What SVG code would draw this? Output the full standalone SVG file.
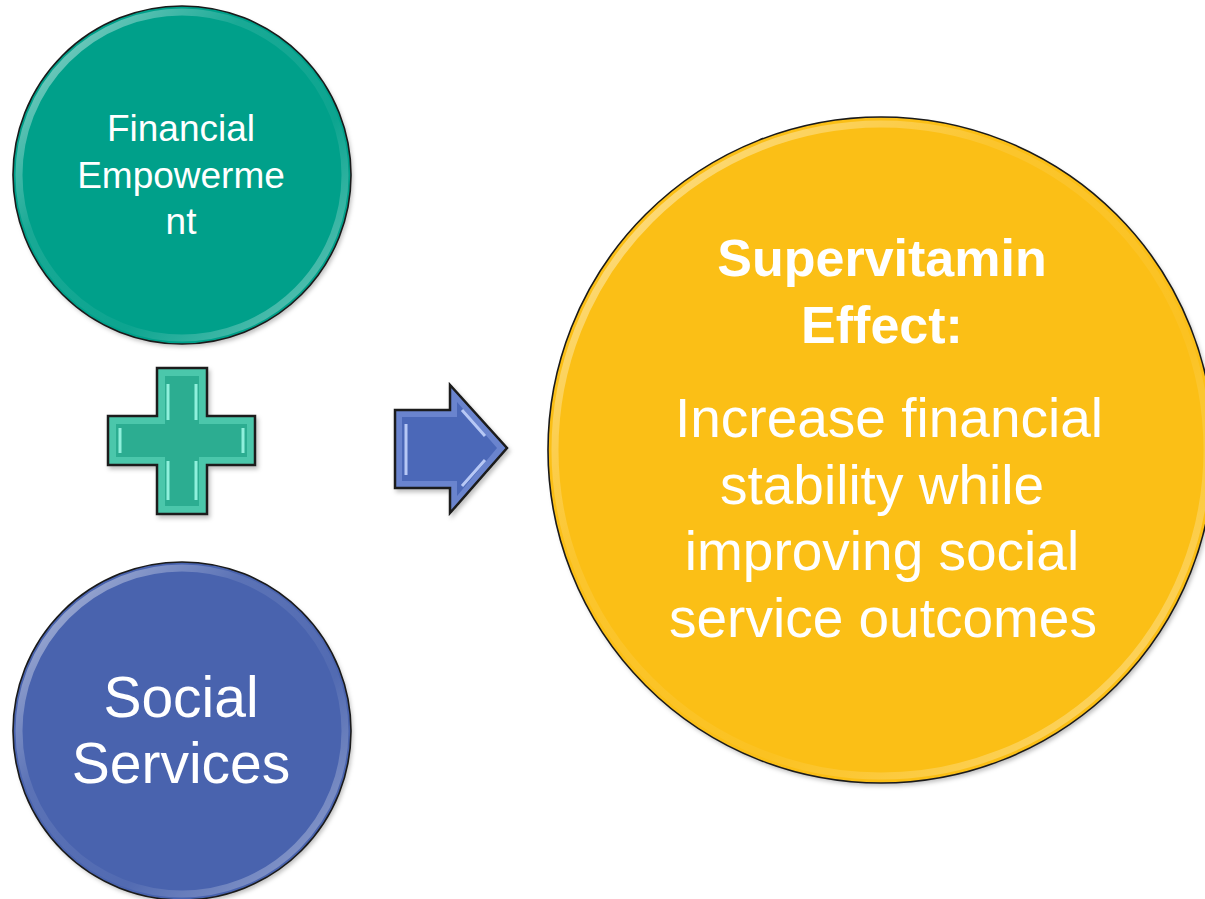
<svg xmlns="http://www.w3.org/2000/svg" width="1205" height="899" viewBox="0 0 1205 899">
<style>
.lbl{font-family:"Liberation Sans",Arial,sans-serif;fill:#ffffff;text-anchor:middle}
.ring{fill:none;stroke:url(#rim);stroke-width:7}
.edge{fill:none;stroke:#1a1a1a;stroke-width:1.6}
</style>
<defs>
<linearGradient id="rim" x1="0" y1="0" x2="1" y2="1">
<stop offset="0" stop-color="#ffffff" stop-opacity="0.6"/>
<stop offset="0.35" stop-color="#ffffff" stop-opacity="0.1"/>
<stop offset="0.65" stop-color="#ffffff" stop-opacity="0.05"/>
<stop offset="1" stop-color="#ffffff" stop-opacity="0.45"/>
</linearGradient>
<filter id="sh" x="-10%" y="-10%" width="120%" height="120%">
<feDropShadow dx="2" dy="3" stdDeviation="2" flood-color="#000" flood-opacity="0.25"/>
</filter>
</defs>

<g id="node-financial">
<circle cx="182" cy="175" r="169" fill="#05A08A" filter="url(#sh)"/>
<circle cx="182" cy="175" r="163" class="ring"/>
<circle cx="182" cy="175" r="169" class="edge"/>
<text class="lbl" font-size="37"><tspan x="181" y="141">Financial</tspan><tspan x="181" y="188">Empowerme</tspan><tspan x="181" y="234">nt</tspan></text>
</g>

<g id="node-plus">
<path d="M157,368 H207 V416 H255 V465 H207 V514 H157 V465 H108 V416 H157 Z" fill="#4CC7AB" stroke="#1a1a1a" stroke-width="2.5" filter="url(#sh)"/>
<path d="M165,376 H199 V424 H247 V457 H199 V506 H165 V457 H116 V424 H165 Z" fill="#2CAD91"/>
<path d="M168,384 V420 M196,384 V420 M168,461 V500 M196,461 V500 M120,428 V453 M243,428 V453" stroke="#8FF0DC" stroke-width="3" fill="none"/>
</g>

<g id="node-social">
<circle cx="182" cy="731" r="169" fill="#4A63AE" filter="url(#sh)"/>
<circle cx="182" cy="731" r="163" class="ring"/>
<circle cx="182" cy="731" r="169" class="edge"/>
<text class="lbl" font-size="57"><tspan x="181" y="717">Social</tspan><tspan x="181" y="783">Services</tspan></text>
</g>

<g id="connectors">
<g id="arrow">
<path d="M395,410 H450 V385 L507,448 L450,513 V488 H395 Z" fill="#6A84CE" stroke="#1a1a1a" stroke-width="2.5" filter="url(#sh)"/>
<path d="M402,417 H457 V402 L497,448 L457,496 V481 H402 Z" fill="#4B68B8"/>
<path d="M406,424 V475 M462,410 L485,436 M462,486 L485,460" stroke="#B7C8F5" stroke-width="3" fill="none"/>
</g>
</g>

<g id="node-effect">
<circle cx="881" cy="450" r="333" fill="#FBBF17" filter="url(#sh)"/>
<circle cx="881" cy="450" r="326" class="ring"/>
<circle cx="881" cy="450" r="333" class="edge"/>
<text class="lbl" font-size="52" font-weight="bold"><tspan x="882" y="276">Supervitamin</tspan><tspan x="882" y="343">Effect:</tspan></text>
<text class="lbl" font-size="55"><tspan x="889" y="437">Increase financial</tspan><tspan x="882" y="504">stability while</tspan><tspan x="882" y="570">improving social</tspan><tspan x="883" y="637">service outcomes</tspan></text>
</g>
</svg>
